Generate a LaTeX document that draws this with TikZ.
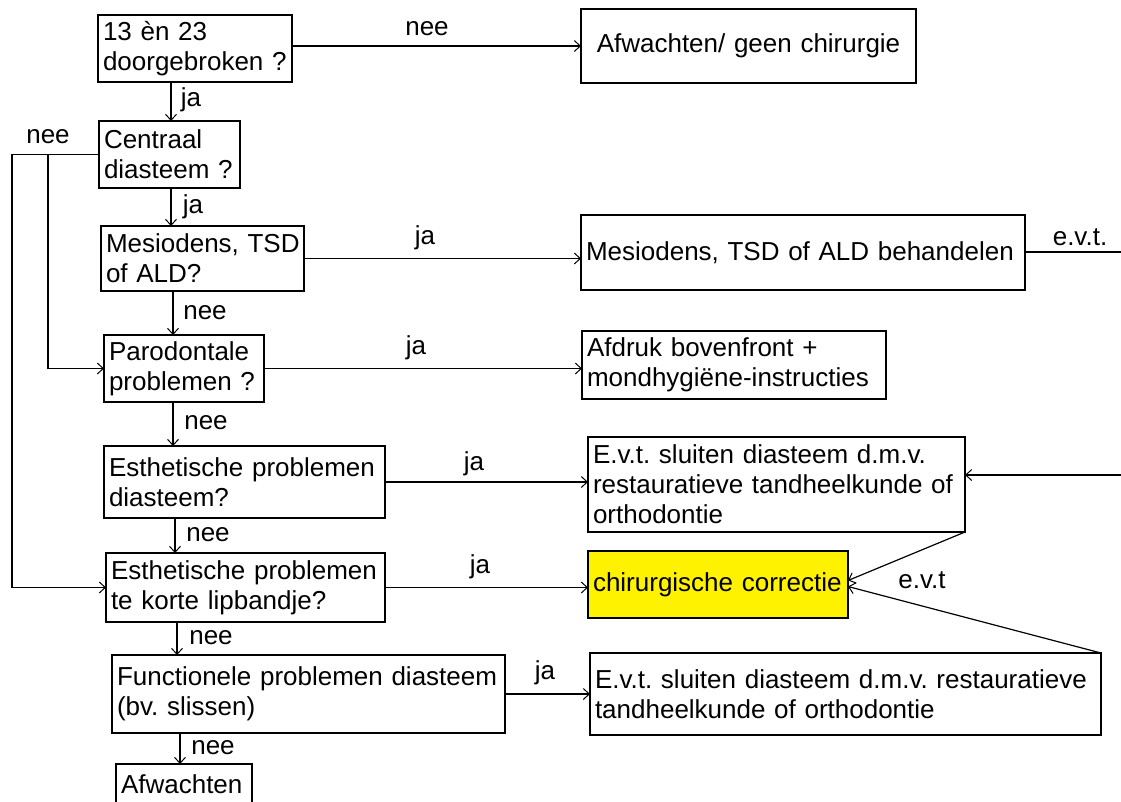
\documentclass[tikz,border=0pt]{standalone}
\usepackage{fontspec}
\setmainfont{Liberation Sans}
\usetikzlibrary{arrows.meta,calc}
\frenchspacing
\begin{document}
\begin{tikzpicture}[x=1pt,y=-1pt,
  every node/.style={font=\fontsize{26}{30}\selectfont},
  box/.style={draw, line width=1.2pt, anchor=north west, inner xsep=5pt, inner ysep=0pt, outer sep=0pt, align=left},
  lbl/.style={inner sep=0pt},
  arr/.style={line width=1.2pt, -{Straight Barb[length=6pt,width=11pt,line width=1pt]}},
  ln/.style={line width=1.2pt}]
\useasboundingbox (0,0) rectangle (1121,801);
\clip (0,0) rectangle (1121,801);
\fill[white] (0,0) rectangle (1121,801);
% left column
\node[box, text width=184pt, minimum height=67pt] (b1) at (98,15) {13 èn 23\\doorgebroken ?};
\node[box, text width=131pt, minimum height=67pt] (b2) at (99,121) {Centraal\\diasteem ?};
\node[box, text width=193pt, minimum height=65pt] (b3) at (101,226) {\mbox{Mesiodens, TSD}\\of ALD?};
\node[box, text width=150pt, minimum height=67pt] (b4) at (104,335) {Parodontale\\problemen ?};
\node[box, text width=271pt, minimum height=72pt] (b5) at (104,446) {\mbox{Esthetische problemen}\\diasteem?};
\node[box, text width=269pt, minimum height=69pt] (b6) at (106,553) {\mbox{Esthetische problemen}\\te korte lipbandje?};
\node[box, text width=383pt, minimum height=78pt] (b7) at (112,655) {\mbox{Functionele problemen diasteem}\\(bv. slissen)};
\node[box, text width=126pt, minimum height=40pt] (b8) at (116,764) {Afwachten};
% right column
\node[box, text width=325pt, minimum height=74pt, align=center] (r1) at (581,9) {Afwachten/ geen chirurgie};
\node[box, text width=434pt, minimum height=75pt] (r2) at (581,215) {\mbox{Mesiodens, TSD of ALD behandelen}};
\node[box, text width=294pt, minimum height=68pt] (r3) at (582,331) {Afdruk bovenfront +\\\mbox{mondhygiëne-instructies}};
\node[box, text width=367pt, minimum height=95pt] (r4) at (588,437) {\mbox{E.v.t. sluiten diasteem d.m.v.}\\\mbox{restauratieve tandheelkunde of}\\orthodontie};
\node[box, fill=yellow, text width=250pt, minimum height=67pt, inner xsep=5pt] (r5) at (588,551) {\mbox{chirurgische correctie}};
\node[box, text width=501pt, minimum height=82pt] (r6) at (590,653) {\mbox{E.v.t. sluiten diasteem d.m.v. restauratieve}\\tandheelkunde of orthodontie};
% helper coordinates
\coordinate (xa) at (171,0);
\coordinate (xb) at (173,0);
\coordinate (xc) at (175,0);
\coordinate (xd) at (177,0);
\coordinate (xe) at (180,0);
\coordinate (L1) at (12,0);
\coordinate (L2) at (48,0);
\coordinate (e1) at (1121,252);
\coordinate (e2) at (1121,475);
% vertical arrows
\draw[arr] (b1.south -| xa) -- (b2.north -| xa);
\draw[arr] (b2.south -| xa) -- (b3.north -| xa);
\draw[arr] (b3.south -| xb) -- (b4.north -| xb);
\draw[arr] (b4.south -| xb) -- (b5.north -| xb);
\draw[arr] (b5.south -| xc) -- (b6.north -| xc);
\draw[arr] (b6.south -| xd) -- (b7.north -| xd);
\draw[arr] (b7.south -| xe) -- (b8.north -| xe);
% horizontal arrows
\draw[arr] (b1.east |- r1.west) -- (r1.west);
\draw[arr] (b3.east) -- (b3.east -| r2.west);
\draw[arr] (b4.east) -- (b4.east -| r3.west);
\draw[arr] (b5.east) -- (b5.east -| r4.west);
\draw[arr] (b6.east) -- (b6.east -| r5.west);
\draw[arr] (b7.east) -- (b7.east -| r6.west);
% left routes
\draw[arr] (b2.west) -- (b2.west -| L1) -- (b6.west -| L1) -- (b6.west);
\draw[arr] (b2.west -| L2) -- (b4.west -| L2) -- (b4.west);
% right side
\draw[ln] (r2.east |- e1) -- (e1);
\draw[arr] (e2) -- (e2 -| r4.east);
\draw[arr] (r4.south east) -- ($(r5.east)+(0,-4)$);
\draw[arr] (r6.north east) -- ($(r5.east)+(0,2)$);
% labels
\node[lbl] (n1) at (427,29) {nee};
\node[lbl] (n2) at (191,100) {ja};
\node[lbl] (n3) at (48,137) {nee};
\node[lbl] (n4) at (193,207) {ja};
\node[lbl] (n5) at (425,238) {ja};
\node[lbl] (n6) at (205,313) {nee};
\node[lbl] (n7) at (416,348) {ja};
\node[lbl] (n8) at (206,423) {nee};
\node[lbl] (n9) at (474,464) {ja};
\node[lbl] (n10) at (208,535) {nee};
\node[lbl] (n11) at (480,567) {ja};
\node[lbl] (n12) at (211,638) {nee};
\node[lbl] (n13) at (545,673) {ja};
\node[lbl] (n14) at (213,748) {nee};
\node[lbl] (n15) at (1080,237) {e.v.t.};
\node[lbl] (n16) at (922,580) {e.v.t};
\end{tikzpicture}
\end{document}
